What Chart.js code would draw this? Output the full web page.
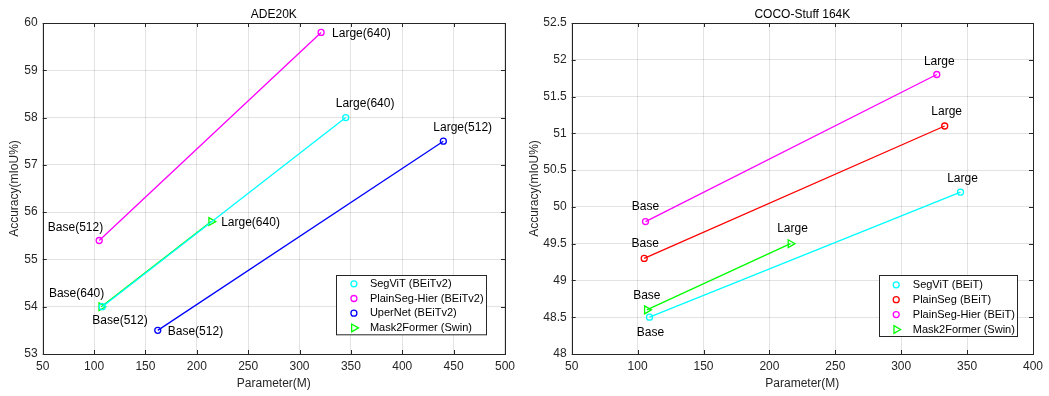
<!DOCTYPE html>
<html>
<head>
<meta charset="utf-8">
<script src="https://cdn.jsdelivr.net/npm/chart.js@4.4.0/dist/chart.umd.min.js"></script>
<style>
  html, body { margin: 0; padding: 0; background: #fff; }
  #wrap { position: relative; width: 1049px; height: 396px; }
  canvas { position: absolute; top: 0; }
</style>
</head>
<body>
<div id="wrap">
  <canvas id="chartAde" width="520" height="396" style="left:0"></canvas>
  <canvas id="chartCoco" width="529" height="396" style="left:520px"></canvas>
</div>
<script>
// ---- ADE20K ----
const adeParamTicks = [50, 100, 150, 200, 250, 300, 350, 400, 450, 500];
const adeAccTicks = [53, 54, 55, 56, 57, 58, 59, 60];
const adeNames = ['SegViT (BEiTv2)', 'PlainSeg-Hier (BEiTv2)', 'UperNet (BEiTv2)', 'Mask2Former (Swin)'];
const adeSegvitParam = [108, 345];
const adeSegvitAcc = [54.0, 58.0];
const adeSegvitText = ['Base(512)', 'Large(640)'];
const adeHierParam = [105, 321];
const adeHierAcc = [55.4, 59.8];
const adeHierText = ['Base(512)', 'Large(640)'];
const adeUperParam = [162, 440];
const adeUperAcc = [53.5, 57.5];
const adeUperText = ['Base(512)', 'Large(512)'];
const adeM2fParam = [107, 214];
const adeM2fAcc = [54.0, 55.8];
const adeM2fText = ['Base(640)', 'Large(640)'];

// ---- COCO-Stuff 164K ----
const cocoParamTicks = [50, 100, 150, 200, 250, 300, 350, 400];
const cocoAccTicks = [48, 48.5, 49, 49.5, 50, 50.5, 51, 51.5, 52, 52.5];
const cocoNames = ['SegViT (BEiT)', 'PlainSeg (BEiT)', 'PlainSeg-Hier (BEiT)', 'Mask2Former (Swin)'];
const cocoSegvitParam = [109, 345];
const cocoSegvitAcc = [48.5, 50.2];
const cocoPlainParam = [105, 333];
const cocoPlainAcc = [49.3, 51.1];
const cocoHierParam = [106, 327];
const cocoHierAcc = [49.8, 51.8];
const cocoM2fParam = [107, 216];
const cocoM2fAcc = [48.6, 49.5];
const cocoText = ['Base', 'Large'];

const FONTE = "'Liberation Sans', Arial, sans-serif";
const COR_EIXO = '#262626';

Chart.defaults.font.family = FONTE;
Chart.defaults.font.size = 12;
Chart.defaults.color = COR_EIXO;

function pontos(xs, ys) {
  return xs.map((x, i) => ({ x: x, y: ys[i] }));
}

function desenharMarcador(ctx, tipo, x, y, cor) {
  ctx.save();
  ctx.strokeStyle = cor;
  ctx.lineWidth = 1.3;
  ctx.beginPath();
  if (tipo == 'triangle') {
    const r = 4.5;
    ctx.moveTo(x + r, y);
    ctx.lineTo(x - r / 2, y - r * 0.866);
    ctx.lineTo(x - r / 2, y + r * 0.866);
    ctx.closePath();
  } else {
    ctx.arc(x, y, 3, 0, Math.PI * 2);
  }
  ctx.stroke();
  ctx.restore();
}

// caixa, ticks para dentro, rotulos dos pontos e legenda
const moldura = {
  id: 'moldura',
  afterDatasetsDraw(chart, args, opts) {
    const ctx = chart.ctx;
    ctx.save();
    ctx.font = '12px ' + FONTE;
    ctx.fillStyle = '#000';
    ctx.textBaseline = 'middle';
    opts.textos.forEach((lista, i) => {
      const meta = chart.getDatasetMeta(i);
      lista.forEach((t, j) => {
        const p = meta.data[j];
        const pos = opts.posicoes[i][j];
        ctx.textAlign = pos[0];
        ctx.fillText(t, p.x + pos[1], p.y + pos[2]);
      });
    });
    ctx.restore();
  },
  afterDraw(chart, args, opts) {
    const ctx = chart.ctx;
    const a = chart.chartArea;
    const sx = chart.scales.x;
    const sy = chart.scales.y;
    const tam = 4;

    ctx.save();
    ctx.strokeStyle = COR_EIXO;
    ctx.lineWidth = 1;
    ctx.beginPath();
    sx.ticks.forEach(t => {
      const px = Math.round(sx.getPixelForValue(t.value)) + 0.5;
      ctx.moveTo(px, a.bottom); ctx.lineTo(px, a.bottom - tam);
      ctx.moveTo(px, a.top); ctx.lineTo(px, a.top + tam);
    });
    sy.ticks.forEach(t => {
      const py = Math.round(sy.getPixelForValue(t.value)) + 0.5;
      ctx.moveTo(a.left, py); ctx.lineTo(a.left + tam, py);
      ctx.moveTo(a.right, py); ctx.lineTo(a.right - tam, py);
    });
    ctx.stroke();
    ctx.strokeRect(Math.round(a.left) + 0.5, Math.round(a.top) + 0.5,
      Math.round(a.right - a.left), Math.round(a.bottom - a.top));

    // legenda
    const lg = opts.legenda;
    ctx.font = '11px ' + FONTE;
    let maxW = 0;
    chart.data.datasets.forEach(d => { maxW = Math.max(maxW, ctx.measureText(d.label).width); });
    const w = lg.textoDx + maxW + 3;
    const x0 = Math.round(a.right - lg.direita - w) + 0.5;
    const y0 = Math.round(a.bottom - lg.baixo - lg.altura) + 0.5;
    ctx.fillStyle = '#fff';
    ctx.fillRect(x0, y0, w, lg.altura);
    ctx.strokeStyle = COR_EIXO;
    ctx.strokeRect(x0, y0, Math.round(w), lg.altura);
    ctx.textAlign = 'left';
    ctx.textBaseline = 'middle';
    chart.data.datasets.forEach((d, i) => {
      const yy = y0 + lg.linha0 + i * lg.passo;
      desenharMarcador(ctx, d.pointStyle, x0 + lg.marcaDx, yy, d.borderColor);
      ctx.fillStyle = '#000';
      ctx.fillText(d.label, x0 + lg.textoDx, yy);
    });
    ctx.restore();
  }
};

function criarGrafico(id, cfg) {
  return new Chart(document.getElementById(id), {
    type: 'line',
    data: {
      datasets: cfg.series.map(s => ({
        label: s.nome,
        data: pontos(s.x, s.y),
        borderColor: s.cor,
        backgroundColor: 'rgba(0,0,0,0)',
        borderWidth: 1.3,
        fill: false,
        tension: 0,
        pointStyle: s.marca,
        pointRadius: s.marca == 'triangle' ? 4.5 : 3,
        pointRotation: s.marca == 'triangle' ? 90 : 0,
        pointBorderWidth: 1.3,
        pointBorderColor: s.cor,
        pointBackgroundColor: 'rgba(0,0,0,0)'
      }))
    },
    options: {
      responsive: false,
      animation: false,
      events: [],
      layout: { padding: { left: 0, right: cfg.padDireita, top: 0, bottom: 0 } },
      plugins: {
        legend: { display: false },
        tooltip: { enabled: false },
        title: {
          display: true,
          text: cfg.titulo,
          fullSize: false,
          color: '#000',
          font: { size: 12, weight: 'normal' },
          padding: { top: 7.5, bottom: 1.1 }
        },
        moldura: { textos: cfg.textos, posicoes: cfg.posicoes, legenda: cfg.legenda }
      },
      scales: {
        x: {
          type: 'linear',
          min: cfg.xTicks[0],
          max: cfg.xTicks[cfg.xTicks.length - 1],
          afterBuildTicks: s => { s.ticks = cfg.xTicks.map(v => ({ value: v })); },
          afterFit: s => { s.height = 42; },
          grid: { color: 'rgba(38,38,38,0.13)', drawTicks: false },
          border: { display: false },
          ticks: { padding: 5, maxRotation: 0, callback: v => String(v) },
          title: { display: true, text: 'Parameter(M)', padding: { top: 0, bottom: 5.5 } }
        },
        y: {
          type: 'linear',
          min: cfg.yTicks[0],
          max: cfg.yTicks[cfg.yTicks.length - 1],
          afterBuildTicks: s => { s.ticks = cfg.yTicks.map(v => ({ value: v })); },
          afterFit: s => { s.width = cfg.larguraY; },
          grid: { color: 'rgba(38,38,38,0.13)', drawTicks: false },
          border: { display: false },
          ticks: { padding: 5, callback: v => String(v) },
          title: { display: true, text: 'Accuracy(mIoU%)', padding: { top: 7.5, bottom: 0 } }
        }
      }
    },
    plugins: [moldura]
  });
}

criarGrafico('chartAde', {
  titulo: 'ADE20K',
  xTicks: adeParamTicks,
  yTicks: adeAccTicks,
  larguraY: 42.7,
  padDireita: 13.3,
  series: [
    { nome: adeNames[0], x: adeSegvitParam, y: adeSegvitAcc, cor: '#00ffff', marca: 'circle' },
    { nome: adeNames[1], x: adeHierParam, y: adeHierAcc, cor: '#ff00ff', marca: 'circle' },
    { nome: adeNames[2], x: adeUperParam, y: adeUperAcc, cor: '#0000ff', marca: 'circle' },
    { nome: adeNames[3], x: adeM2fParam, y: adeM2fAcc, cor: '#00ff00', marca: 'triangle' }
  ],
  textos: [adeSegvitText, adeHierText, adeUperText, adeM2fText],
  posicoes: [
    [['left', -10, 14], ['left', -10, -13.5]],
    [['right', 4, -13], ['left', 11, 1]],
    [['left', 10, 1], ['left', -10, -13.5]],
    [['right', 3, -13], ['left', 10, 1.5]]
  ],
  legenda: { direita: 18.7, baixo: 19.7, altura: 59.3, linha0: 8.3, passo: 14.7, marcaDx: 17.4, textoDx: 33.4 }
});

criarGrafico('chartCoco', {
  titulo: 'COCO-Stuff 164K',
  xTicks: cocoParamTicks,
  yTicks: cocoAccTicks,
  larguraY: 51.7,
  padDireita: 16,
  series: [
    { nome: cocoNames[0], x: cocoSegvitParam, y: cocoSegvitAcc, cor: '#00ffff', marca: 'circle' },
    { nome: cocoNames[1], x: cocoPlainParam, y: cocoPlainAcc, cor: '#ff0000', marca: 'circle' },
    { nome: cocoNames[2], x: cocoHierParam, y: cocoHierAcc, cor: '#ff00ff', marca: 'circle' },
    { nome: cocoNames[3], x: cocoM2fParam, y: cocoM2fAcc, cor: '#00ff00', marca: 'triangle' }
  ],
  textos: [cocoText, cocoText, cocoText, cocoText],
  posicoes: [
    [['center', 1, 15], ['center', 2, -13.5]],
    [['center', 1, -14.5], ['center', 2, -14]],
    [['center', 0, -14.5], ['center', 2.5, -13]],
    [['center', 0, -13.7], ['center', 2, -14.5]]
  ],
  legenda: { direita: 16, baixo: 18, altura: 61, linha0: 9.3, passo: 14.9, marcaDx: 16.7, textoDx: 33.3 }
});
</script>
</body>
</html>
